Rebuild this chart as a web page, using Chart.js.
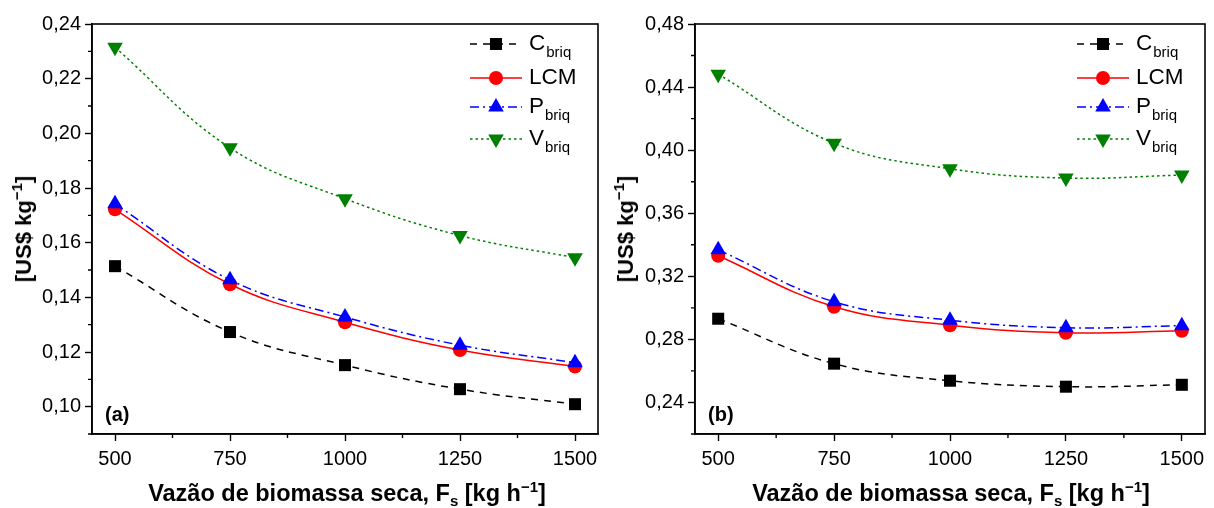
<!DOCTYPE html>
<html>
<head>
<meta charset="utf-8">
<script src="https://cdn.jsdelivr.net/npm/chart.js@4/dist/chart.umd.min.js"></script>
<style>
  body { margin: 0; background: #fff; font-family: Arial, "Liberation Sans", sans-serif; }
  #wrap { position: relative; width: 1214px; height: 508px; overflow: hidden; }
  canvas { position: absolute; top: 0; }
  .xtitle, .ytitle, .tag { position: absolute; font-weight: bold; color: #000; white-space: nowrap; }
  .xtitle { font-size: 23.5px; top: 480px; transform: translateX(-50%); }
  .ytitle { font-size: 22px; transform: translate(-50%, -50%) rotate(-90deg); }
  .tag { font-size: 20px; }
  sub { font-size: 15px; vertical-align: -5px; line-height: 0; }
  sup { font-size: 15px; vertical-align: 9px; line-height: 0; }
</style>
</head>
<body>
<div id="wrap">
  <canvas id="chartA" width="607" height="508" style="left:0"></canvas>
  <canvas id="chartB" width="607" height="508" style="left:607px"></canvas>
  <div class="ytitle" style="left:24px; top:229px">[US$ kg<sup>−1</sup>]</div>
  <div class="ytitle" style="left:626px; top:229px">[US$ kg<sup>−1</sup>]</div>
  <div class="xtitle" style="left:347px">Vazão de biomassa seca, F<sub>s</sub> [kg h<sup>−1</sup>]</div>
  <div class="xtitle" style="left:951px">Vazão de biomassa seca, F<sub>s</sub> [kg h<sup>−1</sup>]</div>
  <div class="tag" style="left:105px; top:403px">(a)</div>
  <div class="tag" style="left:708px; top:403px">(b)</div>
</div>
<script>
// flow rate of dry biomass [kg/h]
const flowRates = [500, 750, 1000, 1250, 1500];

const seriesNames = ['C', 'LCM', 'P', 'V'];
const seriesSubs = ['briq', '', 'briq', 'briq'];

// panel (a)
const cBriqA = [0.1514, 0.1273, 0.1152, 0.1064, 0.1009];
const lcmA = [0.1722, 0.1448, 0.1309, 0.1207, 0.1147];
const pBriqA = [0.1742, 0.1464, 0.1328, 0.1225, 0.1161];
const vBriqA = [0.2315, 0.1947, 0.1761, 0.1626, 0.1545];

// panel (b)
const cBriqB = [0.2931, 0.2646, 0.2538, 0.2500, 0.2512];
const lcmB = [0.3330, 0.3007, 0.2890, 0.2842, 0.2855];
const pBriqB = [0.3368, 0.3039, 0.2922, 0.2874, 0.2887];
const vBriqB = [0.4482, 0.4044, 0.3882, 0.3823, 0.3842];

const xTicks = [500, 750, 1000, 1250, 1500];
const xMinor = [625, 875, 1125, 1375];
const yTicksA = [0.10, 0.12, 0.14, 0.16, 0.18, 0.20, 0.22, 0.24];
const yMinorA = [0.09, 0.11, 0.13, 0.15, 0.17, 0.19, 0.21, 0.23];
const yTicksB = [0.24, 0.28, 0.32, 0.36, 0.40, 0.44, 0.48];
const yMinorB = [0.22, 0.26, 0.30, 0.34, 0.38, 0.42, 0.46];

const styles = [
  { color: '#000000', dash: [7, 6], pointStyle: 'rect', radius: 8.5, rotation: 0, order: 0 },
  { color: '#ff0000', dash: [], pointStyle: 'circle', radius: 7, rotation: 0, order: 2 },
  { color: '#0000ff', dash: [9, 4, 2, 4], pointStyle: 'triangle', radius: 9, rotation: 0, order: 1 },
  { color: '#008000', dash: [2.5, 3], pointStyle: 'triangle', radius: 9, rotation: 180, order: 3 }
];

// frame, minor ticks and legend with subscripts
const framePlugin = {
  id: 'frame',
  afterDraw(chart, args, opts) {
    const { ctx, chartArea: a, scales: { x, y } } = chart;
    ctx.save();
    ctx.strokeStyle = '#000';
    ctx.lineWidth = 1.6;
    ctx.strokeRect(a.left, a.top, a.right - a.left, a.bottom - a.top);
    ctx.lineWidth = 1.4;
    ctx.beginPath();
    opts.xMinor.forEach((v) => {
      const px = x.getPixelForValue(v);
      ctx.moveTo(px, a.bottom);
      ctx.lineTo(px, a.bottom + 4);
    });
    opts.yMinor.forEach((v) => {
      const py = y.getPixelForValue(v);
      ctx.moveTo(a.left - 4, py);
      ctx.lineTo(a.left, py);
    });
    ctx.stroke();

    // legend
    const rows = [20, 54, 83, 115];
    chart.data.datasets.forEach((ds, i) => {
      const yy = a.top + rows[i];
      const x0 = a.right - 128;
      const x1 = a.right - 76;
      ctx.strokeStyle = ds.borderColor;
      ctx.lineWidth = 1.5;
      ctx.setLineDash(ds.borderDash);
      ctx.beginPath();
      ctx.moveTo(x0, yy);
      ctx.lineTo(x1, yy);
      ctx.stroke();
      ctx.setLineDash([]);
      ctx.fillStyle = ds.backgroundColor;
      Chart.helpers.drawPoint(ctx, {
        pointStyle: ds.pointStyle, radius: ds.pointRadius,
        rotation: ds.pointRotation, borderWidth: 0
      }, (x0 + x1) / 2, yy);
      ctx.fillStyle = '#000';
      ctx.textBaseline = 'middle';
      ctx.textAlign = 'left';
      ctx.font = '22.5px Arial, "Liberation Sans", sans-serif';
      const tx = a.right - 69;
      ctx.fillText(seriesNames[i], tx, yy);
      if (seriesSubs[i]) {
        const w = ctx.measureText(seriesNames[i]).width;
        ctx.font = '15px Arial, "Liberation Sans", sans-serif';
        ctx.fillText(seriesSubs[i], tx + w + 1, yy + 9);
      }
    });
    ctx.restore();
  }
};

function makeDatasets(values) {
  return values.map((vals, i) => ({
    label: seriesNames[i] + seriesSubs[i],
    data: vals.map((v, j) => ({ x: flowRates[j], y: v })),
    borderColor: styles[i].color,
    backgroundColor: styles[i].color,
    borderDash: styles[i].dash,
    borderWidth: 1.5,
    pointStyle: styles[i].pointStyle,
    pointRadius: styles[i].radius,
    pointRotation: styles[i].rotation,
    pointBorderWidth: 0,
    tension: 0.4,
    order: styles[i].order
  }));
}

function makeChart(id, values, yMin, yMax, yTicks, yMinor, yWidth, padRight) {
  const fmtY = (v) => v.toFixed(2).replace('.', ',');
  const fmtX = (v) => String(v);
  const tickFont = { family: 'Arial, "Liberation Sans", sans-serif', size: 20 };
  return new Chart(document.getElementById(id), {
    type: 'line',
    data: { datasets: makeDatasets(values) },
    options: {
      responsive: false,
      animation: false,
      layout: { padding: { top: 24, right: padRight, left: 0, bottom: 0 } },
      plugins: {
        legend: { display: false },
        tooltip: { enabled: false },
        frame: { xMinor, yMinor }
      },
      scales: {
        x: {
          type: 'linear',
          min: 450,
          max: 1550,
          afterBuildTicks: (s) => { s.ticks = xTicks.map((v) => ({ value: v })); },
          afterFit: (s) => { s.height = 74; },
          ticks: { color: '#000', font: tickFont, padding: 6, maxRotation: 0, callback: fmtX },
          grid: { drawOnChartArea: false, tickLength: 7, tickColor: '#000', tickWidth: 1.4 },
          border: { color: '#000', width: 1.6 }
        },
        y: {
          type: 'linear',
          min: yMin,
          max: yMax,
          afterBuildTicks: (s) => { s.ticks = yTicks.map((v) => ({ value: v })); },
          afterFit: (s) => { s.width = yWidth; },
          ticks: { color: '#000', font: tickFont, padding: 4, callback: fmtY },
          grid: { drawOnChartArea: false, tickLength: 7, tickColor: '#000', tickWidth: 1.4 },
          border: { color: '#000', width: 1.6 }
        }
      }
    },
    plugins: [framePlugin]
  });
}

makeChart('chartA', [cBriqA, lcmA, pBriqA, vBriqA], 0.09, 0.24, yTicksA, yMinorA, 92, 4);
makeChart('chartB', [cBriqB, lcmB, pBriqB, vBriqB], 0.22, 0.48, yTicksB, yMinorB, 88, 7);
</script>
</body>
</html>
